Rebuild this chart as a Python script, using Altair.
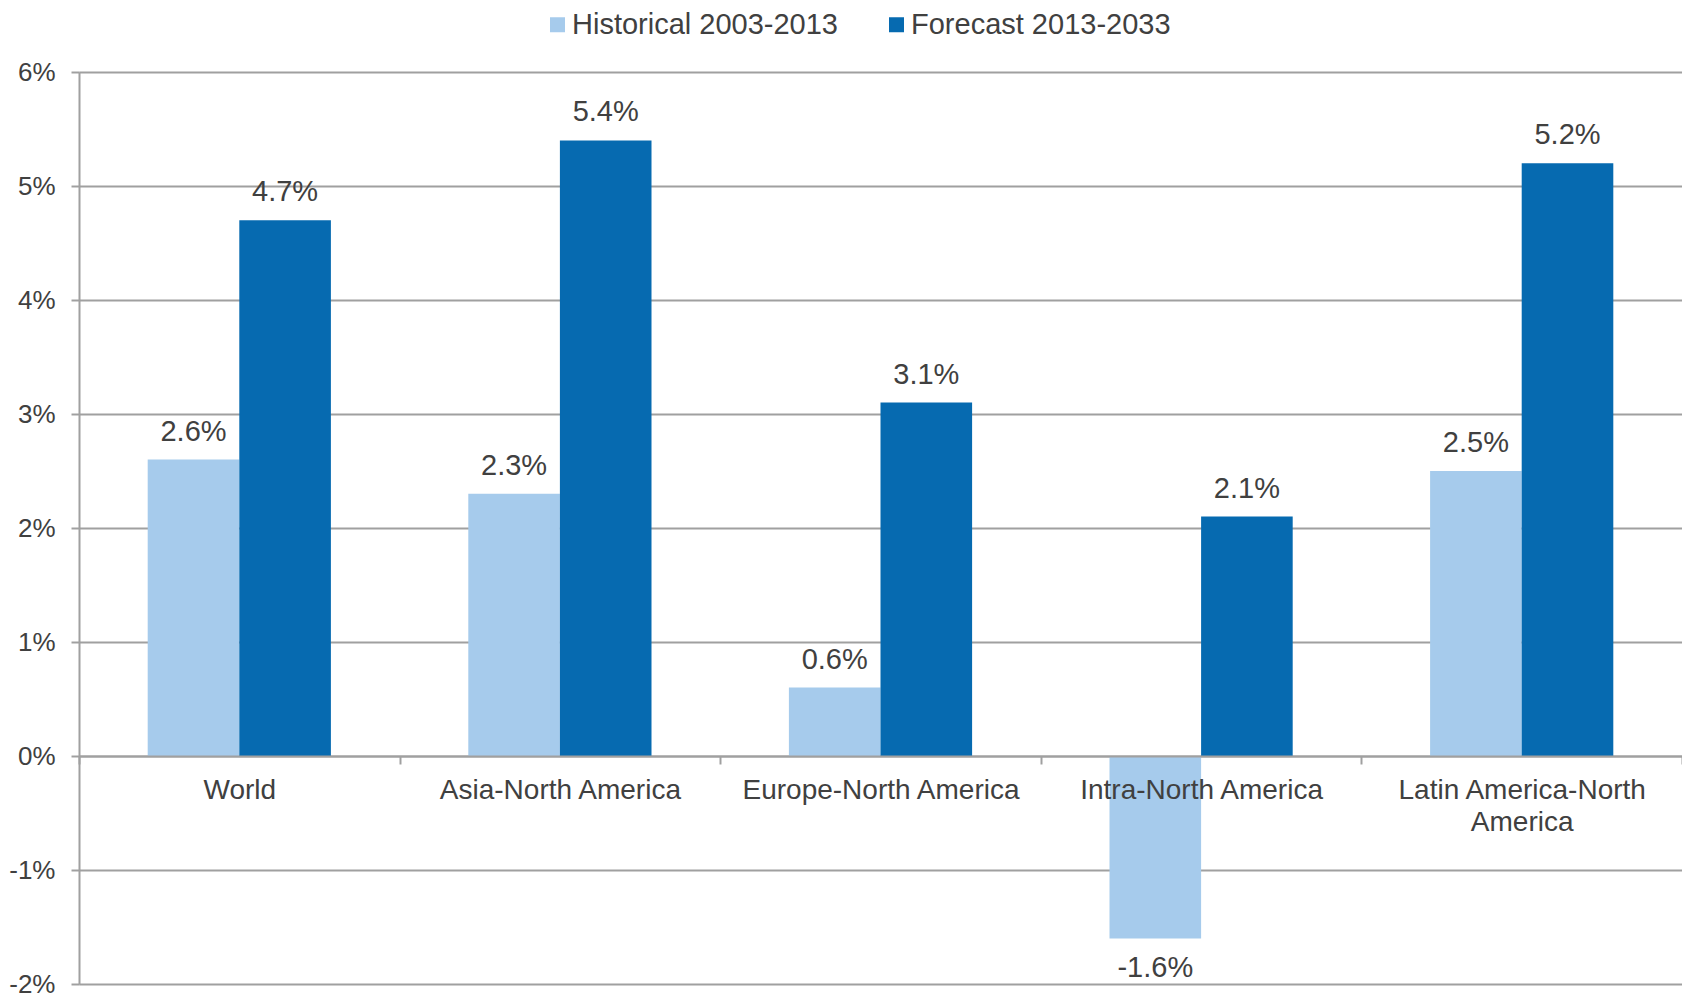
import altair as alt
import pandas as pd

categories = ["World", "Asia-North America", "Europe-North America",
              "Intra-North America", "Latin America-North America"]
series = ["Historical 2003-2013", "Forecast 2013-2033"]
historical = [2.6, 2.3, 0.6, -1.6, 2.5]
forecast = [4.7, 5.4, 3.1, 2.1, 5.2]
y_ticks = [-2, -1, 0, 1, 2, 3, 4, 5, 6]

colors = ["#A6CBEC", "#066AB0"]
text_color = "#404040"
grid_color = "#A0A0A0"

rows = []
for c, h, f in zip(categories, historical, forecast):
    rows.append({"category": c, "series": series[0], "value": h})
    rows.append({"category": c, "series": series[1], "value": f})
df = pd.DataFrame(rows)

W = 1603
H = 912

x_enc = alt.X(
    "category:N", sort=categories,
    scale=alt.Scale(paddingInner=0, paddingOuter=0),
    axis=alt.Axis(
        title=None, labelAngle=0, labelFontSize=28, labelColor=text_color,
        tickBand="extent", tickSize=8, tickColor=grid_color, tickWidth=2,
        domainColor=grid_color, domainWidth=2, offset=-H / 4,
        labelPadding=12, labelLimit=0, labelLineHeight=32, grid=False,
        zindex=1,
        labelExpr="datum.label == 'Latin America-North America' ? ['Latin America-North', 'America'] : datum.label",
    ),
)
xoff_enc = alt.XOffset("series:N", sort=series,
                       scale=alt.Scale(paddingInner=0, paddingOuter=0.75))
y_enc = alt.Y(
    "value:Q", scale=alt.Scale(domain=[-2, 6], nice=False, zero=True),
    axis=alt.Axis(
        title=None, values=y_ticks, labelExpr="datum.value + '%'",
        grid=True, gridColor=grid_color, gridWidth=2,
        domainColor=grid_color, domainWidth=2,
        tickColor=grid_color, tickWidth=2, tickSize=8,
        labelFontSize=26, labelColor=text_color, labelPadding=16,
    ),
)

base = alt.Chart(df).encode(x=x_enc, xOffset=xoff_enc, y=y_enc)

bars = base.mark_bar().encode(
    color=alt.Color(
        "series:N", sort=series,
        scale=alt.Scale(domain=series, range=colors),
        legend=alt.Legend(
            title=None, orient="none", direction="horizontal",
            legendX=464, legendY=-62, labelFontSize=29, labelColor=text_color,
            symbolType="square", symbolSize=225, symbolStrokeWidth=0,
            labelOffset=0, columnPadding=44, padding=0, labelLimit=0,
        ),
    )
)

labels_pos = base.transform_filter("datum.value >= 0").transform_calculate(
    label="datum.value + '%'"
).mark_text(dy=-28, fontSize=29, color=text_color, baseline="middle").encode(
    text="label:N"
)
labels_neg = base.transform_filter("datum.value < 0").transform_calculate(
    label="datum.value + '%'"
).mark_text(dy=30, fontSize=29, color=text_color, baseline="middle").encode(
    text="label:N"
)

chart = alt.layer(bars, labels_pos, labels_neg).properties(
    width=W, height=H,
    autosize=alt.AutoSizeParams(type="none"),
    padding={"left": 71, "top": 64, "right": 0, "bottom": 14},
    background="white",
).configure_view(stroke=None).configure(font="Liberation Sans")

chart.save("out.html", embed_options={"renderer": "svg", "actions": False})
